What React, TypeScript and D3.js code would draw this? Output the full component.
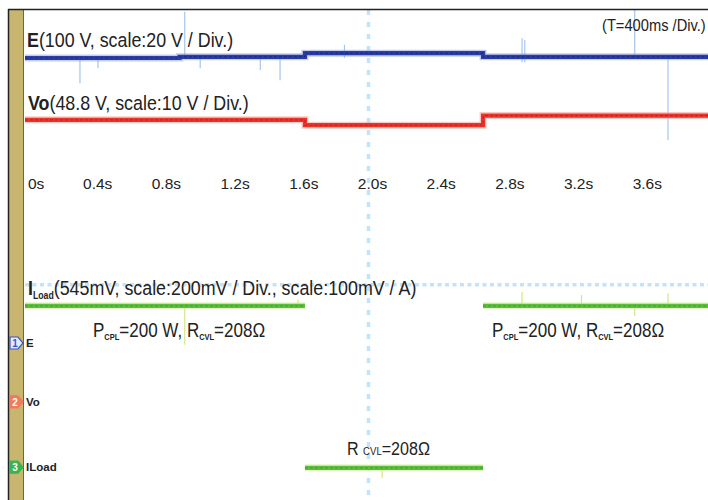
import React from 'react';
import * as d3 from 'd3';

const width = 708;
const height = 500;

// time axis in seconds, 400 ms per division
const timeTicks = [0, 0.4, 0.8, 1.2, 1.6, 2.0, 2.4, 2.8, 3.2, 3.6];
const tickLabels = ['0s', '0.4s', '0.8s', '1.2s', '1.6s', '2.0s', '2.4s', '2.8s', '3.2s', '3.6s'];

// trace levels in screen divisions: [time, level] (step after)
const eLevels: [number, number][] = [[0, 7.2], [0.9, 7.22], [1.63, 7.28], [2.667, 7.22], [4, 7.22]];
const voLevels: [number, number][] = [[0, 6.17], [1.63, 6.08], [2.667, 6.24], [4, 6.24]];
// current trace: [start, end, level]
const iLoadSegments: [number, number, number][] = [[0, 1.63, 3.07], [1.63, 2.667, 0.37], [2.667, 4, 3.07]];

// glitches seen on the traces: [time, from, to]
const eSpikes: [number, number, number][] = [
  [0.32, 7.2, 6.78], [0.425, 7.2, 7.03], [0.93, 7.97, 7.2], [1.02, 7.2, 7.03],
  [1.37, 7.2, 7.0], [1.485, 7.2, 6.83], [1.86, 7.42, 7.2], [2.894, 7.53, 7.13],
  [2.91, 7.5, 7.13], [3.55, 8.0, 7.25], [3.744, 7.25, 5.83],
];
const iSpikes: [number, number, number][] = [
  [0.93, 3.07, 2.42], [1.59, 3.17, 3.07], [2.894, 3.3, 3.07], [3.24, 3.25, 3.07],
  [3.55, 3.07, 2.9], [3.744, 3.28, 3.07], [2.08, 0.37, 0.2],
];

const refLevel = 3.42; // dotted horizontal reference
const centerTime = 2.0;

const channels = [
  { n: '1', name: 'E', level: 2.45, fill: '#e4e9ff', stroke: '#3a55c8', text: '#3a55c8' },
  { n: '2', name: 'Vo', level: 1.47, fill: '#f07a5a', stroke: '#f07a5a', text: '#fff' },
  { n: '3', name: 'ILoad', level: 0.38, fill: '#3ab34e', stroke: '#3ab34e', text: '#fff' },
];

const x = d3.scaleLinear().domain([0, 4]).range([25, 712]);
const y = d3.scaleLinear().domain([0, 8]).range([490, 10]);

const stepLine = d3.line<[number, number]>()
  .x(d => x(d[0]))
  .y(d => y(d[1]))
  .curve(d3.curveStepAfter);

const font = 'Liberation Sans, Arial, sans-serif';

function Trace({ d, halo, main, core }: { d: string; halo: string; main: string; core: string }) {
  return (
    <g fill="none">
      <path d={d} stroke={halo} strokeWidth={7} opacity={0.6} />
      <path d={d} stroke={main} strokeWidth={4.2} />
      <path d={d} stroke={core} strokeWidth={1.2} strokeDasharray="3,2" />
    </g>
  );
}

export default function App() {
  const eSpikeColor = '#a6c6ea';
  const iSpikeColor = '#d4e68c';
  return (
    <svg width={width} height={height} style={{ position: 'absolute', left: 0, top: 0, background: '#fff' }}>
      {/* dotted grid */}
      <line x1={x(centerTime)} x2={x(centerTime)} y1={y(8)} y2={height}
        stroke="#c6e2f6" strokeWidth={3.5} strokeDasharray="5,7" />
      <line x1={25} x2={width} y1={y(refLevel)} y2={y(refLevel)}
        stroke="#c6e2f6" strokeWidth={3.5} strokeDasharray="4,3.5" />

      {/* spikes */}
      {eSpikes.map((s, i) => (
        <line key={'e' + i} x1={x(s[0])} x2={x(s[0])} y1={y(s[1])} y2={y(s[2])} stroke={eSpikeColor} strokeWidth={1.2} />
      ))}
      {iSpikes.map((s, i) => (
        <line key={'i' + i} x1={x(s[0])} x2={x(s[0])} y1={y(s[1])} y2={y(s[2])} stroke={iSpikeColor} strokeWidth={1.2} />
      ))}

      {/* traces */}
      <Trace d={stepLine(eLevels) || ''} halo="#9eaae0" main="#2c3ea6" core="#1c2a88" />
      <Trace d={stepLine(voLevels) || ''} halo="#f6a8a0" main="#e8362c" core="#d41e1e" />
      {iLoadSegments.map((s, i) => (
        <Trace key={i} d={stepLine([[s[0], s[2]], [s[1], s[2]]]) || ''} halo="#d6ec9c" main="#5cbf3c" core="#3ca63a" />
      ))}

      {/* time labels */}
      {timeTicks.map((t, i) => (
        <text key={t} x={x(t) + (i === 0 ? 3 : 4)} y={189} fontFamily={font} fontSize={15.5}
          textAnchor={i === 0 ? 'start' : 'middle'} fill="#222">{tickLabels[i]}</text>
      ))}

      {/* annotations */}
      <g fontFamily={font} fill="#222">
        <text transform="translate(27,47) scale(0.87,1)" fontSize={20.5}>
          <tspan fontWeight="bold">E</tspan>(100 V, scale:20 V / Div.)
        </text>
        <text transform="translate(28,110) scale(0.87,1)" fontSize={20.5}>
          <tspan fontWeight="bold">Vo</tspan>(48.8 V, scale:10 V / Div.)
        </text>
        <text transform="translate(602,31) scale(0.89,1)" fontSize={16.5}>(T=400ms /Div.)</text>
        <text transform="translate(28,295) scale(0.87,1)" fontSize={20.5}>
          <tspan fontWeight="bold">I</tspan>
          <tspan fontSize={10} fontWeight="bold" dy={4}>Load</tspan>
          <tspan dy={-4}>(545mV, scale:200mV / Div., scale:100mV / A)</tspan>
        </text>
        {[93, 492].map(px => (
          <text key={px} transform={`translate(${px},337) scale(0.83,1)`} fontSize={20.5}>
            P<tspan fontSize={9} fontWeight="bold" dy={3}>CPL</tspan>
            <tspan dy={-3}>=200 W, R</tspan>
            <tspan fontSize={9} fontWeight="bold" dy={3}>CVL</tspan>
            <tspan dy={-3}>=208Ω</tspan>
          </text>
        ))}
        <text transform="translate(347,455) scale(0.87,1)" fontSize={18.5}>
          R <tspan fontSize={11}>CVL</tspan>=208Ω
        </text>
      </g>

      {/* left channel strip */}
      <rect x={9} y={10} width={14} height={height - 10} fill="#c9b66e" />
      <line x1={23.5} x2={23.5} y1={10} y2={height} stroke="#6b6450" strokeWidth={1} />
      <line x1={8.5} x2={8.5} y1={9} y2={height} stroke="#222" strokeWidth={1.5} />
      <line x1={8} x2={width} y1={9.5} y2={9.5} stroke="#222" strokeWidth={1.5} />

      {channels.map(c => {
        const cy = y(c.level);
        return (
          <g key={c.n}>
            <path d={`M10,${cy - 6}H18L23,${cy}L18,${cy + 6}H10Z`} fill={c.fill} stroke={c.stroke} strokeWidth={1.2} />
            <text x={15} y={cy + 4} fontFamily={font} fontSize={10} fontWeight="bold" textAnchor="middle" fill={c.text}>{c.n}</text>
            <text x={26} y={cy + 4} fontFamily={font} fontSize={11.5} fontWeight="bold" fill="#222">{c.name}</text>
          </g>
        );
      })}
    </svg>
  );
}
